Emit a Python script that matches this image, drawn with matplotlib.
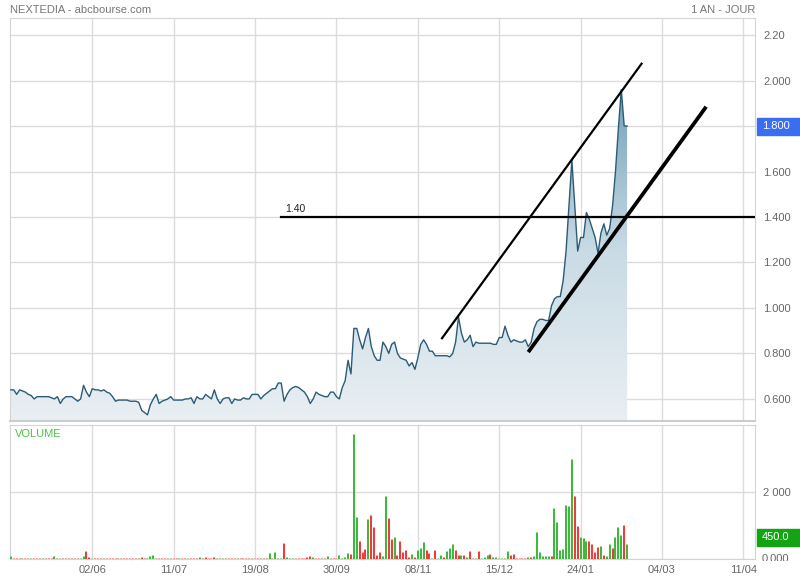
import numpy as np
import matplotlib
matplotlib.use("Agg")
import matplotlib.pyplot as plt
from matplotlib.colors import LinearSegmentedColormap
from matplotlib.patches import PathPatch, Rectangle
from matplotlib.transforms import Bbox, TransformedBbox

plt.rcParams["font.family"] = ["Liberation Sans", "DejaVu Sans"]

# daily closing price (one value per trading day)
price = [
    0.64, 0.64, 0.62, 0.64, 0.635, 0.63, 0.62, 0.615, 0.60, 0.61,
    0.61, 0.61, 0.61, 0.61, 0.605, 0.60, 0.61, 0.58, 0.60, 0.61,
    0.61, 0.61, 0.60, 0.59, 0.60, 0.66, 0.63, 0.61, 0.645, 0.64,
    0.64, 0.635, 0.64, 0.63, 0.625, 0.61, 0.59, 0.595, 0.595, 0.595,
    0.595, 0.59, 0.59, 0.59, 0.585, 0.55, 0.54, 0.53, 0.575, 0.60,
    0.62, 0.58, 0.59, 0.595, 0.60, 0.61, 0.595, 0.595, 0.595, 0.595,
    0.60, 0.60, 0.605, 0.58, 0.61, 0.60, 0.60, 0.62, 0.61, 0.60,
    0.64, 0.60, 0.58, 0.60, 0.605, 0.605, 0.58, 0.60, 0.595, 0.595,
    0.605, 0.60, 0.60, 0.62, 0.62, 0.62, 0.60, 0.615, 0.625, 0.635,
    0.645, 0.645, 0.67, 0.67, 0.59, 0.62, 0.64, 0.65, 0.655, 0.65,
    0.64, 0.63, 0.61, 0.58, 0.60, 0.63, 0.62, 0.615, 0.61, 0.61,
    0.63, 0.63, 0.61, 0.60, 0.65, 0.68, 0.77, 0.71, 0.91, 0.91,
    0.86, 0.82, 0.87, 0.91, 0.83, 0.79, 0.77, 0.77, 0.85, 0.83,
    0.80, 0.84, 0.85, 0.80, 0.78, 0.775, 0.77, 0.745, 0.76, 0.73,
    0.78, 0.84, 0.86, 0.84, 0.81, 0.81, 0.79, 0.79, 0.79, 0.79,
    0.79, 0.785, 0.80, 0.85, 0.96, 0.89, 0.85, 0.86, 0.88, 0.83,
    0.85, 0.845, 0.845, 0.845, 0.845, 0.845, 0.84, 0.84, 0.87, 0.87,
    0.92, 0.88, 0.85, 0.86, 0.855, 0.85, 0.85, 0.86, 0.83, 0.85,
    0.91, 0.94, 0.95, 0.95, 0.945, 0.945, 1.01, 1.04, 1.05, 1.05,
    1.12, 1.25, 1.45, 1.65, 1.45, 1.25, 1.31, 1.31, 1.42, 1.39,
    1.35, 1.31, 1.24, 1.33, 1.37, 1.32, 1.35, 1.45, 1.60, 1.79,
    1.96, 1.80, 1.80,
]

# daily volume and direction (1 = up / green, 0 = down / red)
volume = [
    90, 20, 15, 25, 15, 20, 15, 20, 15, 20,
    15, 20, 15, 20, 30, 80, 20, 15, 20, 15,
    20, 15, 20, 25, 20, 100, 230, 50, 40, 30,
    15, 20, 15, 20, 20, 25, 20, 15, 15, 20,
    15, 20, 25, 15, 40, 50, 20, 20, 80, 120,
    30, 20, 20, 15, 15, 15, 20, 20, 15, 15,
    15, 20, 25, 20, 30, 60, 40, 60, 30, 30,
    60, 25, 40, 20, 20, 15, 15, 20, 15, 15,
    20, 15, 20, 15, 20, 15, 15, 20, 15, 180,
    30, 200, 40, 40, 480, 60, 30, 20, 20, 20,
    20, 30, 60, 80, 60, 20, 20, 30, 20, 100,
    30, 20, 30, 120, 40, 60, 170, 150, 3730, 1250,
    530, 200, 290, 1190, 1310, 950, 130, 220, 100, 1890,
    1210, 600, 670, 130, 550, 200, 270, 60, 150, 60,
    270, 330, 500, 270, 170, 30, 280, 30, 130, 60,
    250, 330, 450, 280, 130, 120, 120, 60, 230, 30,
    30, 230, 30, 60, 120, 150, 60, 60, 20, 30,
    40, 250, 120, 150, 20, 20, 20, 20, 60, 60,
    90, 820, 200, 100, 100, 100, 100, 1510, 1090, 270,
    300, 1610, 1590, 3000, 1870, 1000, 650, 620, 550, 550,
    450, 220, 350, 390, 130, 100, 450, 330, 670, 950,
    720, 1020, 450,
]
vol_up = [
    1, 0, 0, 0, 1, 0, 0, 1, 0, 0,
    0, 1, 0, 0, 0, 1, 0, 1, 0, 0,
    1, 0, 0, 0, 1, 1, 0, 0, 1, 0,
    0, 0, 1, 0, 0, 0, 0, 1, 0, 0,
    0, 0, 0, 0, 1, 0, 0, 1, 1, 1,
    1, 0, 0, 0, 1, 0, 0, 0, 1, 0,
    0, 1, 0, 0, 0, 1, 0, 0, 0, 0,
    0, 1, 1, 0, 1, 0, 0, 0, 1, 0,
    0, 0, 0, 1, 0, 0, 0, 1, 0, 1,
    0, 1, 1, 1, 0, 1, 1, 1, 0, 0,
    0, 0, 0, 0, 1, 0, 0, 1, 0, 1,
    0, 0, 0, 1, 1, 1, 1, 0, 1, 1,
    0, 0, 0, 1, 0, 0, 0, 0, 1, 1,
    0, 0, 1, 0, 0, 0, 0, 0, 1, 0,
    1, 1, 1, 0, 0, 1, 0, 1, 1, 0,
    1, 1, 1, 0, 0, 1, 0, 1, 0, 1,
    1, 0, 1, 1, 1, 0, 1, 1, 0, 1,
    1, 1, 0, 0, 0, 0, 0, 0, 1, 0,
    1, 1, 1, 1, 1, 1, 0, 1, 1, 1,
    1, 1, 1, 1, 0, 0, 1, 1, 1, 0,
    0, 0, 0, 1, 0, 1, 1, 0, 1, 1,
    1, 0, 1,
]

date_ticks = [28, 56, 84, 112, 140, 168, 196, 224, 252]
date_labels = ["02/06", "11/07", "19/08", "30/09", "08/11", "15/12", "24/01", "04/03", "11/04"]
price_ticks = [0.6, 0.8, 1.0, 1.2, 1.4, 1.6, 1.8, 2.0, 2.2]
price_labels = ["0.600", "0.800", "1.000", "1.200", "1.400", "1.600", "1.800", "2.000", "2.20"]

# drawn trend lines (trading-day index, price)
upper_line = [(148.1, 0.863), (217.2, 2.078)]
lower_line = [(178.0, 0.806), (239.2, 1.885)]
level = 1.40
level_start = 93

GRID = "#dcdcdc"
TXT = "#666666"
XMAX = 256.0
PMIN, PMAX = 0.503, 2.275
CAP = 30  # light top of each volume bar (~1 px)

fig = plt.figure(figsize=(8, 5.8), dpi=100)
ax = fig.add_axes([10 / 800, 159 / 580, 745 / 800, 403 / 580])
axv = fig.add_axes([10 / 800, 21 / 580, 745 / 800, 134 / 580])

x = np.arange(len(price))

# ---- price panel ----
cmap = LinearSegmentedColormap.from_list("fill", ["#e9eff3", "#c9dbe5", "#6f9db6"])
grad = np.linspace(0, 1, 256).reshape(-1, 1)
im = ax.imshow(grad, extent=[-0.5, XMAX, PMIN, 2.0], origin="lower",
               aspect="auto", cmap=cmap, zorder=1)
poly = ax.fill_between(x, price, PMIN, color="none", linewidth=0)
clip = PathPatch(poly.get_paths()[0], transform=ax.transData,
                 facecolor="none", edgecolor="none")
ax.add_patch(clip)
im.set_clip_path(clip)
ax.plot(x, price, color="#2b5c75", lw=1.0, zorder=3)

ax.plot(*zip(*upper_line), color="black", lw=1.6, zorder=4, solid_capstyle="butt")
ax.plot(*zip(*lower_line), color="black", lw=2.7, zorder=4, solid_capstyle="butt")
ax.plot([level_start, XMAX], [level, level], color="black", lw=1.6, zorder=4)
ax.text(level_start + 1.5, level + 0.012, "1.40", fontsize=7.5, color="#222222",
        va="bottom", ha="left", zorder=5)

ax.set_xlim(-0.3, XMAX)
ax.set_ylim(PMIN, PMAX)
ax.set_xticks(date_ticks)
ax.set_yticks(price_ticks)
ax.set_xticklabels([])
ax.set_yticklabels(price_labels)
ax.yaxis.tick_right()
ax.tick_params(axis="both", length=0, labelsize=8, labelcolor=TXT, pad=6)
ax.grid(True, color=GRID, lw=1.0, zorder=0)
ax.set_axisbelow(True)
for s in ax.spines.values():
    s.set_color("#d4d4d4")
ax.spines["bottom"].set_color("#c8ced2")
ax.spines["bottom"].set_linewidth(1.5)

# last price tag
fig.patches.append(Rectangle((757 / 800, (580 - 135) / 580), 43 / 800, 17 / 580,
                             transform=fig.transFigure, color="#3a6df0", zorder=5))
fig.text(762 / 800, (580 - 126) / 580, "1.800", color="white", fontsize=8,
         va="center", ha="left", zorder=6)

# ---- volume panel ----
vol = np.array(volume, dtype=float)
up = np.array(vol_up, dtype=bool)
light = np.where(up, "#9ddb9d", "#f9a3a3")
dark = np.where(up, "#3dba3d", "#f23b3b")
axv.vlines(x, 0, vol, colors=light, lw=1.45, zorder=3, capstyle="butt")
axv.vlines(x, 0, np.clip(vol - CAP, 0, None), colors=dark, lw=1.45, zorder=4,
           capstyle="butt")
axv.set_xlim(-0.3, XMAX)
axv.set_ylim(0, 4000)
axv.set_xticks(date_ticks)
axv.set_xticklabels(date_labels)
axv.set_yticks([0, 2000])
axv.set_yticklabels(["", "2 000"])
axv.yaxis.tick_right()
axv.tick_params(axis="both", length=0, labelsize=8, labelcolor=TXT)
axv.tick_params(axis="y", pad=6)
axv.tick_params(axis="x", pad=4)
axv.grid(True, color=GRID, lw=1.0, zorder=0)
axv.set_axisbelow(True)
for s in axv.spines.values():
    s.set_color("#d4d4d4")
axv.text(0.006, 0.97, "VOLUME", transform=axv.transAxes, color="#4cc24c",
         fontsize=8, va="top", ha="left")

zero = fig.text(762 / 800, (580 - 559) / 580, "0.000", color=TXT, fontsize=8,
                va="center", ha="left")
zero.set_clip_box(TransformedBbox(Bbox([[0.9, (580 - 561) / 580], [1.0, 1.0]]),
                                  fig.transFigure))
zero.set_clip_on(True)

fig.patches.append(Rectangle((757 / 800, (580 - 546) / 580), 43 / 800, 17 / 580,
                             transform=fig.transFigure, color="#13a313", zorder=5))
fig.text(762 / 800, (580 - 537) / 580, "450.0", color="white", fontsize=8,
         va="center", ha="left", zorder=6)

# titles
fig.text(10 / 800, (580 - 10) / 580, "NEXTEDIA - abcbourse.com", color="#777777",
         fontsize=8, va="center", ha="left")
fig.text(755 / 800, (580 - 10) / 580, "1 AN - JOUR", color="#777777",
         fontsize=8, va="center", ha="right")

fig.savefig("out.png", dpi=100)
